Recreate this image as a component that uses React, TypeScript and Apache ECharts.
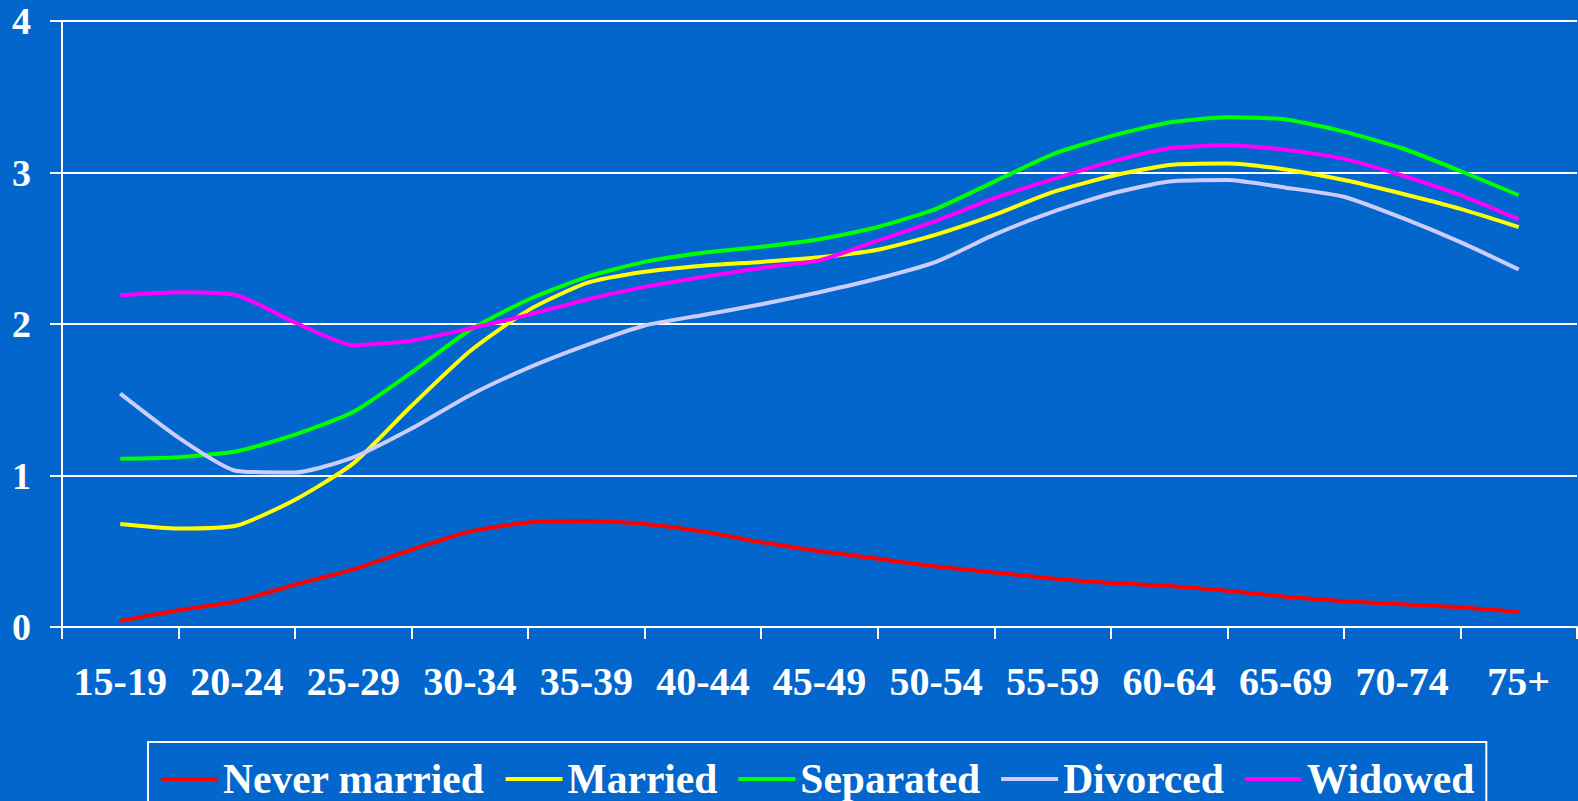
import React, { useEffect, useRef } from "react";
import * as echarts from "echarts";

const CATEGORIES = ["15-19", "20-24", "25-29", "30-34", "35-39", "40-44", "45-49", "50-54", "55-59", "60-64", "65-69", "70-74", "75+"];
// positions (in category units) at which the curves were read, half a group apart
const AGE_POS = [0, 0.5, 1, 1.5, 2, 2.5, 3, 3.5, 4, 4.5, 5, 5.5, 6, 6.5, 7, 7.5, 8, 8.5, 9, 9.5, 10, 10.5, 11, 11.5, 12];
const Y_TICKS = [0, 1, 2, 3, 4];

const NEVER_MARRIED = [0.04, 0.11, 0.17, 0.28, 0.38, 0.51, 0.63, 0.69, 0.70, 0.68, 0.63, 0.56, 0.50, 0.45, 0.40, 0.36, 0.32, 0.29, 0.27, 0.24, 0.20, 0.17, 0.15, 0.13, 0.10];
const MARRIED = [0.68, 0.65, 0.67, 0.84, 1.08, 1.46, 1.82, 2.09, 2.27, 2.345, 2.385, 2.41, 2.44, 2.49, 2.59, 2.72, 2.87, 2.975, 3.05, 3.06, 3.02, 2.95, 2.86, 2.76, 2.64];
const SEPARATED = [1.11, 1.12, 1.16, 1.27, 1.42, 1.68, 1.96, 2.16, 2.31, 2.41, 2.47, 2.51, 2.56, 2.64, 2.76, 2.94, 3.12, 3.24, 3.33, 3.365, 3.35, 3.27, 3.16, 3.01, 2.85];
const DIVORCED = [1.54, 1.25, 1.03, 1.02, 1.12, 1.31, 1.53, 1.71, 1.86, 1.99, 2.06, 2.13, 2.21, 2.30, 2.41, 2.59, 2.74, 2.86, 2.94, 2.95, 2.90, 2.84, 2.70, 2.54, 2.36];
const WIDOWED = [2.19, 2.21, 2.19, 2.01, 1.86, 1.89, 1.97, 2.06, 2.16, 2.245, 2.31, 2.37, 2.42, 2.55, 2.68, 2.83, 2.955, 3.07, 3.16, 3.18, 3.15, 3.09, 2.98, 2.85, 2.69];

const SERIES_NAMES = ["Never married", "Married", "Separated", "Divorced", "Widowed"];
const SERIES_VALUES = [NEVER_MARRIED, MARRIED, SEPARATED, DIVORCED, WIDOWED];
const COLORS = ["#FF0000", "#FFFF00", "#00FF00", "#CCCCFF", "#FF00FF"];

const FONT = "'Liberation Serif', 'Times New Roman', serif";

export default function App() {
  const ref = useRef<HTMLDivElement>(null);

  useEffect(() => {
    document.body.style.margin = "0";
    if (!ref.current) return;
    const chart = echarts.init(ref.current, undefined, { renderer: "svg" });
    const white = "#FFFFFF";
    chart.setOption({
      animation: false,
      backgroundColor: "#0366CC",
      color: COLORS,
      grid: { left: 62, right: 1, top: 21, bottom: 174, containLabel: false },
      xAxis: [
        {
          type: "category",
          data: CATEGORIES,
          boundaryGap: true,
          axisLine: { show: true, onZero: false, lineStyle: { color: white, width: 2 } },
          axisTick: { show: true, length: 12, interval: 0, lineStyle: { color: white, width: 2 } },
          axisLabel: {
            interval: 0,
            margin: 34,
            color: white,
            fontFamily: FONT,
            fontWeight: "bold",
            fontSize: 40,
          },
          splitLine: { show: false },
        },
        {
          type: "value",
          min: -0.5,
          max: 12.5,
          show: false,
          splitLine: { show: false },
        },
      ],
      yAxis: {
        type: "value",
        min: Y_TICKS[0],
        max: Y_TICKS[Y_TICKS.length - 1],
        interval: 1,
        axisLine: { show: true, onZero: false, lineStyle: { color: white, width: 2 } },
        axisTick: { show: true, length: 12, lineStyle: { color: white, width: 2 } },
        axisLabel: {
          margin: 31,
          color: white,
          fontFamily: FONT,
          fontWeight: "bold",
          fontSize: 38,
        },
        splitLine: { show: true, lineStyle: { color: white, width: 2 } },
      },
      legend: {
        left: 148,
        top: 742,
        orient: "horizontal",
        icon: "rect",
        itemWidth: 57,
        itemHeight: 4,
        itemGap: 21,
        padding: [16, 12, 12, 13],
        borderColor: white,
        borderWidth: 2,
        data: SERIES_NAMES,
        textStyle: {
          color: white,
          fontFamily: FONT,
          fontWeight: "bold",
          fontSize: 41.5,
        },
      },
      series: SERIES_NAMES.map((name, s) => ({
        name,
        type: "line",
        xAxisIndex: 1,
        yAxisIndex: 0,
        data: AGE_POS.map((x, i) => [x, SERIES_VALUES[s][i]]),
        showSymbol: false,
        symbol: "none",
        smooth: 0.2,
        lineStyle: { width: 4, color: COLORS[s] },
        itemStyle: { color: COLORS[s] },
      })),
    });
    return () => chart.dispose();
  }, []);

  return <div ref={ref} style={{ width: 1578, height: 801 }} />;
}
